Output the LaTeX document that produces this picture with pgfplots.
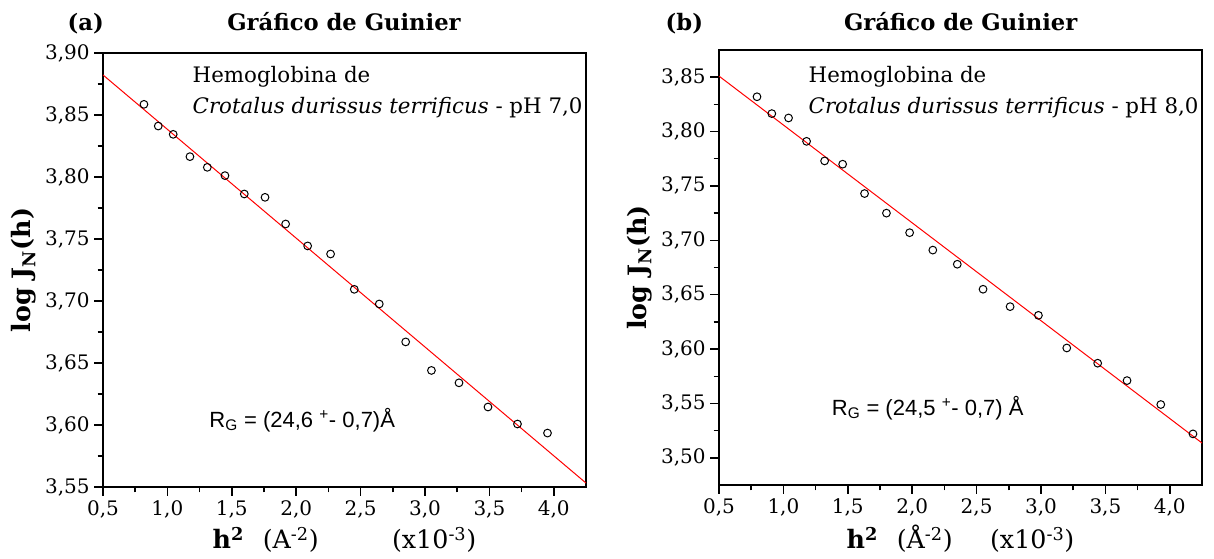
\documentclass[border=0pt]{standalone}
\usepackage{fontspec}
\setmainfont{DejaVu Serif}
\newfontfamily\arialf{Liberation Sans}
\usepackage{pgfplots}
\pgfplotsset{compat=1.18}
\pgfplotstableread{
x y
0.818 3.8586
0.929 3.8411
1.045 3.8344
1.175 3.8164
1.310 3.8078
1.447 3.8011
1.597 3.7863
1.758 3.7836
1.918 3.7621
2.089 3.7444
2.267 3.7379
2.451 3.7094
2.645 3.6976
2.850 3.6670
3.050 3.6440
3.264 3.6340
3.489 3.6145
3.718 3.6008
3.951 3.5935
}\dataA
\pgfplotstableread{
x y
0.795 3.8320
0.910 3.8165
1.040 3.8125
1.180 3.7910
1.320 3.7730
1.460 3.7700
1.630 3.7430
1.800 3.7250
1.980 3.7070
2.160 3.6910
2.350 3.6780
2.550 3.6550
2.760 3.6390
2.980 3.6310
3.200 3.6010
3.440 3.5870
3.668 3.5710
3.930 3.5490
4.180 3.5220
}\dataB
\pgfplotsset{guin/.style={
  scale only axis, width=362.25pt,
  xmin=0.5, xmax=4.25, xtick={0.5,1.0,1.5,2.0,2.5,3.0,3.5,4.0}, minor x tick num=1,
  minor y tick num=1,
  tick align=outside, tick pos=left,
  major tick length=6.5pt, minor tick length=4pt,
  axis line style={line width=1.3pt},
  every tick/.style={black, line width=1.1pt},
  /pgf/number format/assume math mode=true,
  xticklabel style={/pgf/number format/fixed, /pgf/number format/fixed zerofill, /pgf/number format/precision=1, /pgf/number format/use comma},
  yticklabel style={/pgf/number format/fixed, /pgf/number format/fixed zerofill, /pgf/number format/precision=2, /pgf/number format/use comma},
  tick label style={font=\fontsize{15}{17}\selectfont},
  label style={font=\fontsize{19}{21}\selectfont},
  ylabel={\textbf{log J\textsubscript{N}(h)}},
  clip=true,
}}
\begin{document}
\begin{tikzpicture}
\path[use as bounding box] (0,0) rectangle (910.5pt,419.25pt);
% panel (a)
\begin{axis}[guin, at={(77.25pt,54pt)}, anchor=south west, height=325.5pt,
  ymin=3.55, ymax=3.90, ytick={3.55,3.60,3.65,3.70,3.75,3.80,3.85,3.90},
  xlabel={\textbf{h\textsuperscript{2}}\hspace{14pt}(A\textsuperscript{-2})\hspace{55pt}(x10\textsuperscript{-3})}]
\addplot[red, line width=0.75pt] coordinates {(0.5,3.8823) (4.25,3.5532)};
\addplot[only marks, mark=o, mark size=2.9pt, mark options={line width=0.75pt, black}] table {\dataA};
\node[anchor=base west, font=\fontsize{16}{18}\selectfont] at (axis cs:1.16,3.876) {Hemoglobina de};
\node[anchor=base west, font=\fontsize{16}{18}\selectfont] at (axis cs:1.16,3.851) {\textit{Crotalus durissus terrificus} - pH 7,0};
\node[anchor=base west, font=\arialf\fontsize{16.5}{18}\selectfont] at (axis cs:1.29,3.598) {R\textsubscript{G} = (24,6 \textsuperscript{+}- 0,7)Å};
\end{axis}
% panel (b)
\begin{axis}[guin, at={(539.25pt,55.5pt)}, anchor=south west, height=326.25pt,
  ymin=3.475, ymax=3.875, ytick={3.50,3.55,3.60,3.65,3.70,3.75,3.80,3.85},
  xlabel={\textbf{h\textsuperscript{2}}\hspace{14pt}(Å\textsuperscript{-2})\hspace{28pt}(x10\textsuperscript{-3})}]
\addplot[red, line width=0.75pt] coordinates {(0.5,3.851) (4.25,3.5136)};
\addplot[only marks, mark=o, mark size=2.9pt, mark options={line width=0.75pt, black}] table {\dataB};
\node[anchor=base west, font=\fontsize{16}{18}\selectfont] at (axis cs:1.16,3.845) {Hemoglobina de};
\node[anchor=base west, font=\fontsize{16}{18}\selectfont] at (axis cs:1.16,3.817) {\textit{Crotalus durissus terrificus} - pH 8,0};
\node[anchor=base west, font=\arialf\fontsize{16.5}{18}\selectfont] at (axis cs:1.34,3.539) {R\textsubscript{G} = (24,5 \textsuperscript{+}- 0,7) Å};
\end{axis}
% titles
\node[anchor=base west, font=\bfseries\fontsize{17}{19}\selectfont] at (47.25pt,396pt) {(a)};
\node[anchor=base, font=\bfseries\fontsize{17}{19}\selectfont] at (258pt,396pt) {Gráfico de Guinier};
\node[anchor=base west, font=\bfseries\fontsize{17}{19}\selectfont] at (495.75pt,396pt) {(b)};
\node[anchor=base, font=\bfseries\fontsize{17}{19}\selectfont] at (720.5pt,396pt) {Gráfico de Guinier};
\end{tikzpicture}
\end{document}
